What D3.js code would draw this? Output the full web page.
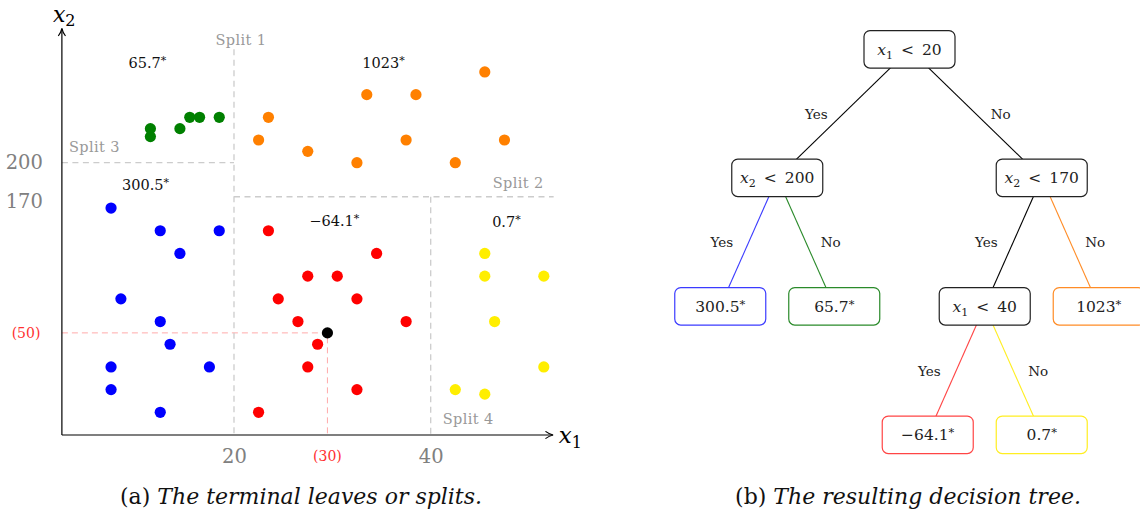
<!DOCTYPE html>
<html>
<head>
<meta charset="utf-8">
<script src="https://cdn.jsdelivr.net/npm/d3@7/dist/d3.min.js"></script>
<style>
  body { margin: 0; background: #fff; }
  svg { display: block; }
  text { font-family: "DejaVu Serif", "Liberation Serif", serif; }
</style>
</head>
<body>
<div id="chart"></div>
<script>
// ---- data (x1, x2 in plot units) ----
var bluePts   = [[7.5, 160], [12.5, 140], [18.5, 140], [14.5, 120], [8.5, 80], [12.5, 60], [13.5, 40], [7.5, 20], [17.5, 20], [7.5, 0], [12.5, -20]];
var greenPts  = [[11.5, 230], [11.5, 223], [14.5, 230], [15.5, 240], [16.5, 240], [18.5, 240]];
var orangePts = [[23.5, 240], [22.5, 220], [27.5, 210], [32.5, 200], [33.5, 260], [38.5, 260], [37.5, 220], [42.5, 200], [45.5, 280], [47.5, 220]];
var redPts    = [[23.5, 140], [24.5, 80], [26.5, 60], [22.5, -20], [34.5, 120], [27.5, 100], [30.5, 100], [32.5, 80], [37.5, 60], [28.5, 40], [27.5, 20], [32.5, 0]];
var yellowPts = [[45.5, 120], [45.5, 100], [51.5, 100], [46.5, 60], [51.5, 20], [42.5, 0], [45.5, -4]];
var queryPt   = [29.5, 50];

var xTicks = [20, 40];
var yTicks = [200, 170];
var queryLabels = ['(30)', '(50)'];

// split lines: from (xa, ya) to (xb, yb)
var splits = [
  { name: 'Split 1', xa: 20, ya: 300, xb: 20, yb: -40 },
  { name: 'Split 2', xa: 20, ya: 170, xb: 52.5, yb: 170 },
  { name: 'Split 3', xa: 2.5, ya: 200, xb: 20, yb: 200 },
  { name: 'Split 4', xa: 40, ya: 170, xb: 40, yb: -40 }
];

// leaf means written in each region
var regionValues = [
  { text: '65.7', x: 11.2, y: 288 },
  { text: '1023', x: 35.2, y: 288 },
  { text: '300.5', x: 11, y: 180 },
  { text: '\u221264.1', x: 30.2, y: 149 },
  { text: '0.7', x: 47.7, y: 148 }
];

var tree = {
  v: '1', val: '20', children: [
    { v: '2', val: '200', children: [
      { leaf: '300.5', color: 'blue' },
      { leaf: '65.7', color: 'green' }
    ] },
    { v: '2', val: '170', children: [
      { v: '1', val: '40', children: [
        { leaf: '\u221264.1', color: 'red' },
        { leaf: '0.7', color: 'yellow' }
      ] },
      { leaf: '1023', color: 'orange' }
    ] }
  ]
};

var captions = [
  { tag: '(a)', text: 'The terminal leaves or splits.', cx: 301 },
  { tag: '(b)', text: 'The resulting decision tree.', cx: 908 }
];

// ---- styles ----
var dotColor  = { blue: '#0000ff', green: '#008000', orange: '#ff8000', red: '#ff0000', yellow: '#ffee00' };
var lineColor = { blue: '#3b3bff', green: '#2a8a2a', orange: '#ff8c26', red: '#ff4545', yellow: '#ffee22' };

var W = 1140, H = 515;
var svg = d3.select('#chart').append('svg').attr('width', W).attr('height', H);

svg.append('defs').append('marker')
  .attr('id', 'arr').attr('viewBox', '0 0 10 10').attr('refX', 9).attr('refY', 5)
  .attr('markerWidth', 9).attr('markerHeight', 9).attr('markerUnits', 'userSpaceOnUse')
  .attr('orient', 'auto')
  .append('path').attr('d', 'M1,1 Q5,4 9.5,5 Q5,6 1,9').attr('fill', 'none')
  .attr('stroke', '#000').attr('stroke-width', 1.3);

// ---- (a) scatter ----
var x = d3.scaleLinear().domain([20, 40]).range([234, 430.7]);
var y = d3.scaleLinear().domain([-40, 200]).range([435, 162.7]);
var xMin = 2.5, xMax = 52.4, yMin = -40, yMax = 318;

var gA = svg.append('g');

// query guides
gA.append('path')
  .attr('d', 'M' + x(xMin) + ',' + y(queryPt[1]) + 'H' + x(queryPt[0]) + 'V' + y(yMin))
  .attr('fill', 'none').attr('stroke', '#ffaaaa').attr('stroke-width', 1).attr('stroke-dasharray', '6,4');

// split lines
gA.selectAll('line.split').data(splits).enter().append('line')
  .attr('class', 'split')
  .attr('x1', function (d) { return x(d.xa); }).attr('y1', function (d) { return y(d.ya); })
  .attr('x2', function (d) { return x(d.xb); }).attr('y2', function (d) { return y(d.yb); })
  .attr('stroke', '#cccccc').attr('stroke-width', 1.3).attr('stroke-dasharray', '6,4.5');

// split labels
var splitLab = [
  { dx: 7, dy: -4, anchor: 'middle', at: function (d) { return [x(d.xa), y(d.ya)]; } },
  { dx: -10, dy: -9, anchor: 'end', at: function (d) { return [x(d.xb), y(d.yb)]; } },
  { dx: 7, dy: -11, anchor: 'start', at: function (d) { return [x(d.xa), y(d.ya)]; } },
  { dx: 12, dy: -11, anchor: 'start', at: function (d) { return [x(d.xb), y(d.yb)]; } }
];
gA.selectAll('text.split').data(splits).enter().append('text')
  .attr('x', function (d, i) { return splitLab[i].at(d)[0] + splitLab[i].dx; })
  .attr('y', function (d, i) { return splitLab[i].at(d)[1] + splitLab[i].dy; })
  .attr('text-anchor', function (d, i) { return splitLab[i].anchor; })
  .attr('fill', '#999').attr('font-size', 14.5).attr('letter-spacing', 0.4)
  .text(function (d) { return d.name; });

// axes
gA.append('line').attr('x1', x(xMin)).attr('y1', y(yMin)).attr('x2', x(xMax)).attr('y2', y(yMin))
  .attr('stroke', '#000').attr('stroke-width', 1.2).attr('marker-end', 'url(#arr)');
gA.append('line').attr('x1', x(xMin)).attr('y1', y(yMin)).attr('x2', x(xMin)).attr('y2', y(yMax))
  .attr('stroke', '#000').attr('stroke-width', 1.2).attr('marker-end', 'url(#arr)');

var xAxis = gA.append('g').attr('transform', 'translate(0,' + y(yMin) + ')')
  .call(d3.axisBottom(x).tickValues(xTicks).tickSize(0).tickPadding(14));
var yAxis = gA.append('g').attr('transform', 'translate(' + x(xMin) + ',0)')
  .call(d3.axisLeft(y).tickValues(yTicks).tickSize(0).tickPadding(19));
[xAxis, yAxis].forEach(function (a) {
  a.select('.domain').remove();
  a.selectAll('text').attr('font-family', '"DejaVu Serif", serif').attr('font-size', 19.5).attr('fill', '#808080');
});
yAxis.selectAll('.tick').filter(function (d) { return d === 170; }).select('text').attr('dy', '0.55em');

// query value labels
gA.append('text').attr('x', x(queryPt[0])).attr('y', y(yMin) + 26).attr('text-anchor', 'middle')
  .attr('fill', '#ff3030').attr('font-size', 14).text(queryLabels[0]);
gA.append('text').attr('x', 26).attr('y', y(queryPt[1]) + 5).attr('text-anchor', 'middle')
  .attr('fill', '#ff3030').attr('font-size', 14).text(queryLabels[1]);

// axis names
var xl = gA.append('text').attr('x', x(xMax) + 6).attr('y', y(yMin) + 8).attr('font-size', 23);
xl.append('tspan').attr('font-style', 'italic').text('x');
xl.append('tspan').attr('font-size', 16).attr('dy', 5).text('1');
var yl = gA.append('text').attr('x', x(xMin) - 9).attr('y', 22).attr('font-size', 22);
yl.append('tspan').attr('font-style', 'italic').text('x');
yl.append('tspan').attr('font-size', 16).attr('dy', 4).text('2');

// points
[['blue', bluePts], ['green', greenPts], ['orange', orangePts], ['red', redPts], ['yellow', yellowPts]].forEach(function (grp) {
  gA.selectAll(null).data(grp[1]).enter().append('circle')
    .attr('cx', function (d) { return x(d[0]); })
    .attr('cy', function (d) { return y(d[1]); })
    .attr('r', 5.6).attr('fill', dotColor[grp[0]]);
});
gA.append('circle').attr('cx', x(queryPt[0])).attr('cy', y(queryPt[1])).attr('r', 5.6).attr('fill', '#000');

// region values
var rv = gA.selectAll('text.rv').data(regionValues).enter().append('text')
  .attr('x', function (d) { return x(d.x); })
  .attr('y', function (d) { return y(d.y) + 5; })
  .attr('text-anchor', 'middle').attr('font-size', 14.5).attr('fill', '#111');
rv.append('tspan').text(function (d) { return d.text; });
rv.append('tspan').attr('font-size', 11).attr('dy', -4).text('*');

// ---- (b) tree ----
var root = d3.hierarchy(tree);
d3.tree().nodeSize([114, 128.5])
  .separation(function (a, b) { return a.parent === b.parent ? 1 : 1.32; })(root);

var gB = svg.append('g').attr('transform', 'translate(909.5,49.3)');
var boxW = 91, boxH = 37.5;

gB.selectAll('line.link').data(root.links()).enter().append('line')
  .attr('x1', function (d) { return d.source.x; }).attr('y1', function (d) { return d.source.y; })
  .attr('x2', function (d) { return d.target.x; }).attr('y2', function (d) { return d.target.y; })
  .attr('stroke', function (d) { return d.target.data.color ? lineColor[d.target.data.color] : '#000'; })
  .attr('stroke-width', 1.1);

gB.selectAll('text.yn').data(root.links()).enter().append('text')
  .attr('x', function (d) {
    var left = d.source.children.indexOf(d.target) === 0;
    return (d.source.x + d.target.x) / 2 + (left ? -27 : 25);
  })
  .attr('y', function (d) { return (d.source.y + d.target.y) / 2 + 5; })
  .attr('text-anchor', 'middle').attr('font-size', 13.5).attr('fill', '#222')
  .text(function (d) { return d.source.children.indexOf(d.target) === 0 ? 'Yes' : 'No'; });

var node = gB.selectAll('g.node').data(root.descendants()).enter().append('g')
  .attr('transform', function (d) { return 'translate(' + d.x + ',' + d.y + ')'; });
node.append('rect')
  .attr('x', -boxW / 2).attr('y', -boxH / 2).attr('width', boxW).attr('height', boxH).attr('rx', 6)
  .attr('fill', '#fff')
  .attr('stroke', function (d) { return d.data.color ? lineColor[d.data.color] : '#222'; })
  .attr('stroke-width', 1.2);
var nt = node.append('text').attr('text-anchor', 'middle').attr('y', 5.5).attr('font-size', 15.5).attr('fill', '#222');
nt.each(function (d) {
  var t = d3.select(this);
  if (d.data.leaf) {
    t.append('tspan').text(d.data.leaf);
    t.append('tspan').attr('font-size', 11.5).attr('dy', -4).text('*');
  } else {
    t.append('tspan').attr('font-style', 'italic').text('x');
    t.append('tspan').attr('font-size', 11).attr('dy', 4).text(d.data.v);
    t.append('tspan').attr('dy', -4).attr('dx', 8).text('<');
    t.append('tspan').attr('dx', 8).text(d.data.val);
  }
});

// ---- captions ----
var cap = svg.selectAll('text.cap').data(captions).enter().append('text')
  .attr('x', function (d) { return d.cx; }).attr('y', 504)
  .attr('text-anchor', 'middle').attr('font-size', 22).attr('fill', '#111');
cap.append('tspan').text(function (d) { return d.tag + ' '; });
cap.append('tspan').attr('font-style', 'italic').text(function (d) { return d.text; });
</script>
</body>
</html>
